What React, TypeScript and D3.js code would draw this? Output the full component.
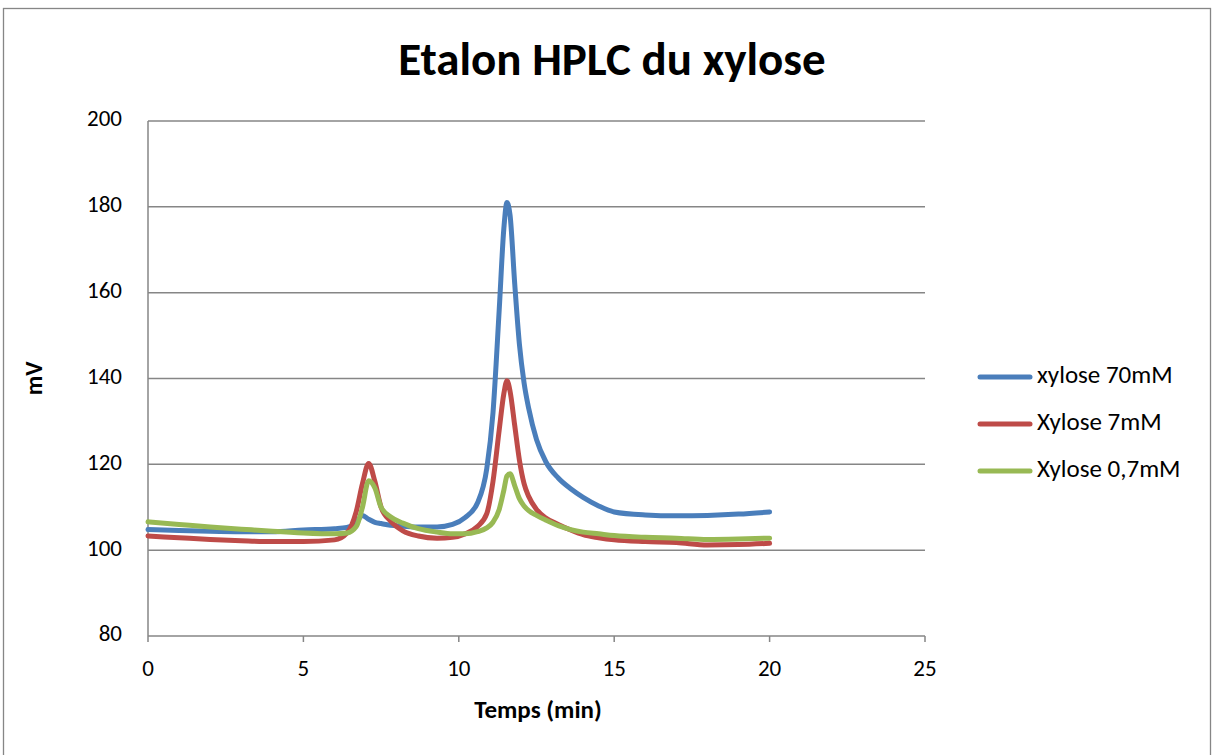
import React from 'react';
import * as d3 from 'd3';

const times = [0, 1, 2, 3, 4, 5, 6, 6.4, 6.7, 6.9, 7.1, 7.3, 7.5, 7.8, 8.2, 8.7, 9.3, 9.8, 10.2, 10.6, 10.9, 11.1, 11.3, 11.45, 11.55, 11.65, 11.8, 11.95, 12.1, 12.25, 12.5, 12.8, 13.2, 13.6, 14, 14.5, 15, 16, 17, 18, 19, 20];

const xylose70 = [104.8, 104.6, 104.4, 104.3, 104.3, 104.7, 105.0, 105.3, 106.5, 108.1, 107.2, 106.5, 106.2, 105.8, 105.6, 105.4, 105.4, 106.0, 107.6, 111, 119, 132, 156, 175, 181, 178, 162, 148, 139, 133, 125.8, 120.6, 116.8, 114.3, 112.3, 110.3, 108.9, 108.2, 108.0, 108.1, 108.4, 108.9];

const xylose7 = [103.3, 102.9, 102.5, 102.2, 102.0, 102.0, 102.4, 104, 109, 115.5, 120.2, 116, 110, 106.8, 104.5, 103.3, 102.8, 103.0, 103.8, 105.5, 108.5, 116, 128, 136.5, 139.5, 137, 129, 121, 115.5, 112.5, 109.5, 107.5, 106, 104.7, 103.6, 102.9, 102.4, 102.0, 101.8, 101.2, 101.3, 101.6];

const xylose07 = [106.6, 106.0, 105.4, 104.9, 104.4, 104.0, 103.8, 104.0, 105.5, 110, 116.2, 114.5, 110, 107.8, 106.3, 105, 104.2, 103.8, 103.8, 104.3, 105.2, 106.5, 109.5, 114, 117.3, 117.8, 115, 112, 110.3, 109.2, 108.1, 107, 105.7, 104.8, 104.2, 103.8, 103.4, 103.0, 102.8, 102.5, 102.6, 102.8];

const seriesNames = ['xylose 70mM', 'Xylose 7mM', 'Xylose 0,7mM'];
const seriesColors = ['#4A7EBB', '#BE4B48', '#98B954'];

const xTicks = [0, 5, 10, 15, 20, 25];
const yTicks = [80, 100, 120, 140, 160, 180, 200];

const font = 'Carlito, Calibri, Lato, sans-serif';
const gridColor = '#868686';

export default function App() {
  const width = 1214;
  const height = 755;
  const plot = { left: 148, right: 925, top: 121, bottom: 636 };

  const x = d3.scaleLinear().domain([0, 25]).range([plot.left, plot.right]);
  const y = d3.scaleLinear().domain([80, 200]).range([plot.bottom, plot.top]);

  const line = d3.line<number>()
    .x((_, i) => x(times[i]))
    .y(d => y(d))
    .curve(d3.curveMonotoneX);

  const allSeries = [xylose70, xylose7, xylose07];

  return (
    <svg width={width} height={height} style={{ position: 'absolute', left: 0, top: 0 }}>
      <rect x={0} y={0} width={width} height={height} fill="#fff" />
      <rect x={3.5} y={8.5} width={1207} height={770} fill="#fff" stroke={gridColor} strokeWidth={1.3} />

      <text x={612} y={75} textAnchor="middle" fontFamily={font} fontWeight="bold" fontSize={47} fill="#000">
        Etalon HPLC du xylose
      </text>

      {yTicks.map(t => (
        <g key={t}>
          <line x1={plot.left} x2={plot.right} y1={y(t)} y2={y(t)} stroke={gridColor} strokeWidth={1.5} />
          <text x={122} y={y(t)} textAnchor="end" dominantBaseline="middle" fontFamily={font} fontSize={23} fill="#000">
            {t}
          </text>
        </g>
      ))}

      <line x1={plot.left} x2={plot.left} y1={plot.top} y2={plot.bottom} stroke={gridColor} strokeWidth={1.5} />

      {xTicks.map(t => (
        <g key={t}>
          <line x1={x(t)} x2={x(t)} y1={plot.bottom} y2={plot.bottom + 6} stroke={gridColor} strokeWidth={1.5} />
          <text x={x(t)} y={671} textAnchor="middle" dominantBaseline="middle" fontFamily={font} fontSize={23} fill="#000">
            {t}
          </text>
        </g>
      ))}

      <text x={538} y={712} textAnchor="middle" dominantBaseline="middle" fontFamily={font} fontWeight="bold" fontSize={25} fill="#000">
        Temps (min)
      </text>
      <text transform={`translate(36, ${(plot.top + plot.bottom) / 2}) rotate(-90)`} textAnchor="middle" dominantBaseline="middle" fontFamily={font} fontWeight="bold" fontSize={24} fill="#000">
        mV
      </text>

      {allSeries.map((s, i) => (
        <path key={i} d={line(s) || ''} fill="none" stroke={seriesColors[i]} strokeWidth={5} strokeLinecap="round" strokeLinejoin="round" />
      ))}

      {seriesNames.map((n, i) => (
        <g key={n} transform={`translate(0, ${377 + i * 47})`}>
          <line x1={980} x2={1030} y1={0} y2={0} stroke={seriesColors[i]} strokeWidth={5} strokeLinecap="round" />
          <text x={1037} y={0} dominantBaseline="middle" fontFamily={font} fontSize={25} fill="#000">
            {n}
          </text>
        </g>
      ))}
    </svg>
  );
}
